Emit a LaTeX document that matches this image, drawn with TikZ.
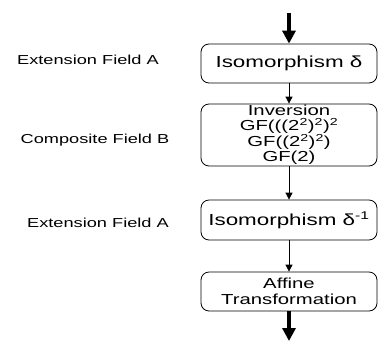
\documentclass[tikz,border=0pt]{standalone}
\usepackage{fontspec}
\setmainfont{Liberation Sans}[FakeStretch=1.4]
\usetikzlibrary{arrows.meta,positioning}
\tikzset{
  StepBox/.style={
    draw, rounded corners=8pt, line width=0.8pt,
    minimum width=176pt, align=center, inner sep=0pt
  },
  FlowArrow/.style={-{Triangle[length=7pt,width=7pt]}, line width=0.8pt},
  BigArrow/.style={-{Triangle[length=13pt,width=13pt]}, line width=3.2pt},
  FieldLabel/.style={font=\fontsize{13}{15}\selectfont}
}

\begin{document}
\begin{tikzpicture}[x=1pt, y=-1pt, line join=round]
  \useasboundingbox (0,0) rectangle (379,343);
  \coordinate (In) at (289,13);
  \coordinate (Out) at (289,341);

  \node[StepBox, minimum height=39pt, font=\fontsize{16}{18}\selectfont]
    (iso) at (289,63.5) {Isomorphism δ};
  \node[StepBox, minimum height=62pt, font=\fontsize{14.5}{15}\selectfont]
    (inv) at (289,135) {Inversion\\GF(((2\textsuperscript{2})\textsuperscript{2})\textsuperscript{2}\\GF((2\textsuperscript{2})\textsuperscript{2})\\GF(2)};
  \node[StepBox, minimum height=40pt, font=\fontsize{16}{18}\selectfont]
    (isoinv) at (289,220) {Isomorphism δ\textsuperscript{-1}};
  \node[StepBox, minimum height=39pt, font=\fontsize{14.5}{16}\selectfont]
    (affine) at (289,291.5) {Affine\\Transformation};

  \draw[BigArrow] (In) -- (iso.north);
  \draw[FlowArrow] (iso) -- (inv);
  \draw[FlowArrow] (inv) -- (isoinv);
  \draw[FlowArrow] (isoinv) -- (affine);
  \draw[BigArrow] (affine) -- (Out);

  % field labels on the left
  \node[FieldLabel] (extA) at (88,60) {Extension Field A};
  \node[FieldLabel] (compB) at (95,140) {Composite Field B};
  \node[FieldLabel] (extA2) at (98,223) {Extension Field A};
\end{tikzpicture}
\end{document}
